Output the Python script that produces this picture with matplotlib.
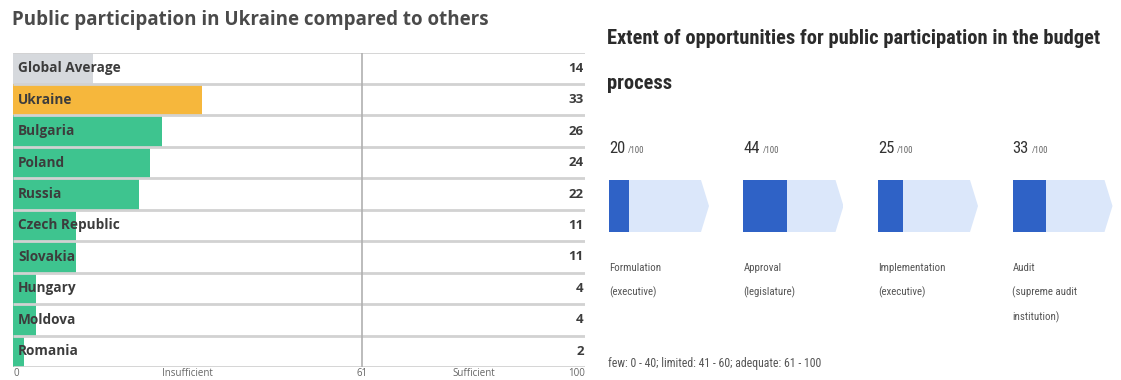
import matplotlib
matplotlib.use('Agg')
import matplotlib.pyplot as plt
from matplotlib import font_manager
from matplotlib.patches import Polygon

# Left panel: public participation scores by country
countries = ['Global Average', 'Ukraine', 'Bulgaria', 'Poland', 'Russia',
             'Czech Republic', 'Slovakia', 'Hungary', 'Moldova', 'Romania']
scores = [14, 33, 26, 24, 22, 11, 11, 4, 4, 2]
threshold = 61
band_names = ['Insufficient', 'Sufficient']

# Right panel: opportunities per budget stage (out of 100)
stages = ['Formulation\n(executive)', 'Approval\n(legislature)',
          'Implementation\n(executive)', 'Audit\n(supreme audit\ninstitution)']
stage_scores = [20, 44, 25, 33]
footnote = 'few: 0 - 40; limited: 41 - 60; adequate: 61 - 100'

W, H = 1121, 380
fig = plt.figure(figsize=(W / 100, H / 100), dpi=100)


def fx(px):
    return px / W


def fy(py):
    return 1 - py / H


names = {f.name for f in font_manager.fontManager.ttflist}
narrow = 'DejaVu Sans'
for cand in ['Roboto Condensed', 'Liberation Sans Narrow', 'Open Sans Condensed']:
    if cand in names:
        narrow = cand
        break
sans = 'Open Sans' if 'Open Sans' in names else 'DejaVu Sans'

# ---- left panel ----
fig.text(fx(12), fy(20), 'Public participation in Ukraine compared to others',
         fontsize=13.5, fontweight='bold', color='#4a4a4a', family=sans, va='center')

ax = fig.add_axes([fx(13), fy(367), fx(585) - fx(13), fy(52.5) - fy(367)])
colors = ['#d6d9dd', '#f6b73c'] + ['#3ec48f'] * (len(countries) - 2)
rows = range(len(countries))
ax.barh(rows, scores, height=1.0, color=colors, zorder=1)
ax.set_xlim(0, 100)
ax.set_ylim(len(countries) - 0.5, -0.5)
ax.hlines([i - 0.5 for i in range(len(countries) + 1)], 0, 100,
          color='#d2d2d2', lw=2, zorder=2)
ax.axvline(threshold, color='#b0b0b0', lw=1.2, zorder=2)
for i, (name, v) in enumerate(zip(countries, scores)):
    ax.text(0.9, i, name, va='center', ha='left', fontsize=9.8,
            fontweight='bold', color='#3c3c3c', family=sans, zorder=3)
    ax.text(99.8, i, str(v), va='center', ha='right', fontsize=9.5,
            fontweight='bold', color='#3c3c3c', family=sans, zorder=3)
ax.axis('off')

# range labels under the axis
tick_pos = [0, threshold / 2, threshold, (threshold + 100) / 2, 100]
tick_txt = ['0', band_names[0], str(threshold), band_names[1], '100']
tick_ha = ['left', 'center', 'center', 'center', 'right']
for p, t, ha in zip(tick_pos, tick_txt, tick_ha):
    ax.annotate(t, xy=(p, 0), xycoords=('data', 'figure fraction'),
                xytext=(0, 0.5), textcoords='offset points', ha=ha,
                va='bottom', fontsize=7, color='#666666', family=sans)

# ---- right panel ----
fig.text(fx(607), fy(29), 'Extent of opportunities for public participation in the budget\nprocess',
         fontsize=14.8, fontweight='bold', color='#2b2b2b', family=narrow,
         fontstretch='condensed', va='top', linespacing=2.72)

light = '#dbe7fa'
dark = '#2f62c6'
step = 134.5
for i, (stage, s) in enumerate(zip(stages, stage_scores)):
    x0 = 609 + i * step
    fig.text(fx(x0), fy(153), str(s), fontsize=12, color='#333333',
             family=narrow, fontstretch='condensed', va='baseline')
    fig.text(fx(x0 + 2 + 8.5 * len(str(s))), fy(153), '/100', fontsize=6.5,
             color='#666666', family=narrow, fontstretch='condensed', va='baseline')

    a = fig.add_axes([fx(x0), fy(232), 100 / W, 52 / H])
    a.set_xlim(0, 100)
    a.set_ylim(0, 1)
    a.add_patch(Polygon([(0, 0), (92, 0), (100, 0.5), (92, 1), (0, 1)],
                        closed=True, color=light, lw=0))
    a.barh(0.5, s, height=1, color=dark, zorder=2)
    a.axis('off')

    fig.text(fx(x0), fy(263), stage, fontsize=7.8, color='#555555',
             family=narrow, fontstretch='condensed', va='top', linespacing=2.5)

fig.text(fx(608), fy(363), footnote, fontsize=8.5, color='#555555',
         family=narrow, fontstretch='condensed', va='center')

fig.savefig('out.png', dpi=100)
